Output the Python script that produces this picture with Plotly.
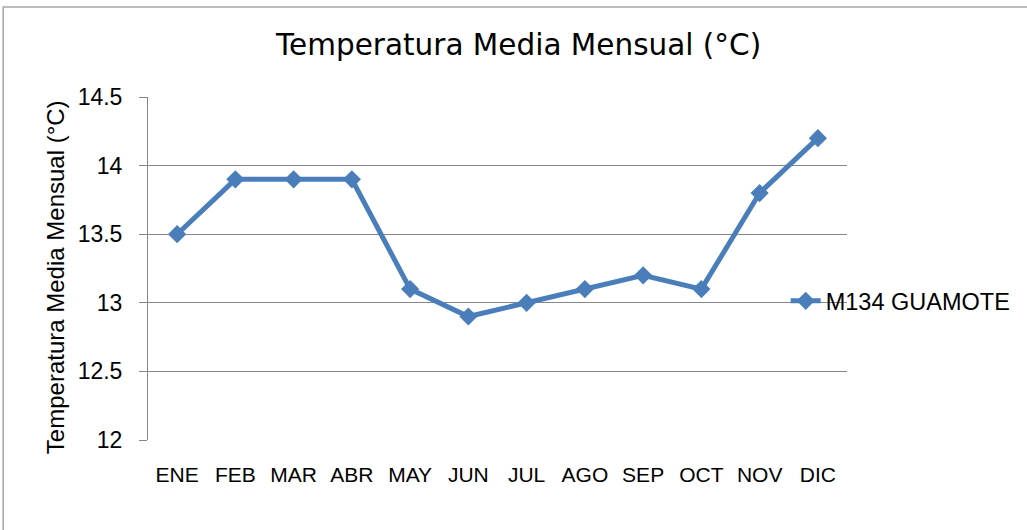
import plotly.graph_objects as go

months = ["ENE", "FEB", "MAR", "ABR", "MAY", "JUN", "JUL", "AGO", "SEP", "OCT", "NOV", "DIC"]
temps = [13.5, 13.9, 13.9, 13.9, 13.1, 12.9, 13.0, 13.1, 13.2, 13.1, 13.8, 14.2]
series_name = "M134 GUAMOTE"
title_text = "Temperatura Media Mensual (°C)"
y_ticks = [12, 12.5, 13, 13.5, 14, 14.5]
y_ticklabels = ["12", "12.5", "13", "13.5", "14", "14.5"]

BLUE = "#4A7EBB"
GRID = "#868686"

fig = go.Figure()
fig.add_trace(go.Scatter(
    x=months, y=temps, name=series_name, mode="lines+markers",
    line=dict(color=BLUE, width=5),
    marker=dict(symbol="diamond", size=14, color=BLUE),
))

W, H = 1027, 530
L, R, T, B = 148, 179, 97, 90
PW, PH = W - L - R, H - T - B

fig.update_layout(
    width=W, height=H,
    margin=dict(l=L, r=R, t=T, b=B),
    paper_bgcolor="white", plot_bgcolor="white",
    font=dict(family="Liberation Sans, Arial, sans-serif", color="#000000"),
    title=dict(text=title_text, x=0.505, xref="container", xanchor="center",
               y=1 - 45 / H, yref="container", yanchor="middle",
               font=dict(family="DejaVu Sans", size=29.5, color="#000000")),
    showlegend=True,
    legend=dict(x=0.911, y=0.405, xanchor="left", yanchor="middle",
                font=dict(size=23.5, color="#000000"), bgcolor="rgba(0,0,0,0)",
                itemwidth=30),
    xaxis=dict(type="category", range=[-0.5, 11.5], showgrid=False,
               showline=False, ticks="", tickfont=dict(size=21),
               ticklabelstandoff=20, zeroline=False, fixedrange=True),
    yaxis=dict(range=[12, 14.5], tickvals=y_ticks, ticktext=y_ticklabels,
               showgrid=True, gridcolor=GRID, gridwidth=1,
               showline=True, linecolor=GRID, linewidth=1,
               ticks="outside", ticklen=8, tickcolor=GRID, tickwidth=1,
               tickfont=dict(size=23), ticklabelstandoff=12,
               zeroline=False, fixedrange=True),
    annotations=[dict(text=title_text, textangle=-90, showarrow=False,
                      xref="paper", yref="paper",
                      x=(55 - L) / PW, y=(H - B - 277) / PH,
                      xanchor="center", yanchor="middle",
                      font=dict(size=24, color="#000000"))],
    shapes=[dict(type="rect", xref="paper", yref="paper",
                 x0=(3 - L) / PW, x1=(1040 - L) / PW,
                 y0=(H - B - 545) / PH, y1=(H - B - 7) / PH,
                 line=dict(color="#A6A6A6", width=1.5), fillcolor="rgba(0,0,0,0)",
                 layer="below")],
)

fig.write_html("out.html",
               config={"displayModeBar": False},
               post_script="document.body.style.margin='0';document.body.style.overflow='hidden';")
